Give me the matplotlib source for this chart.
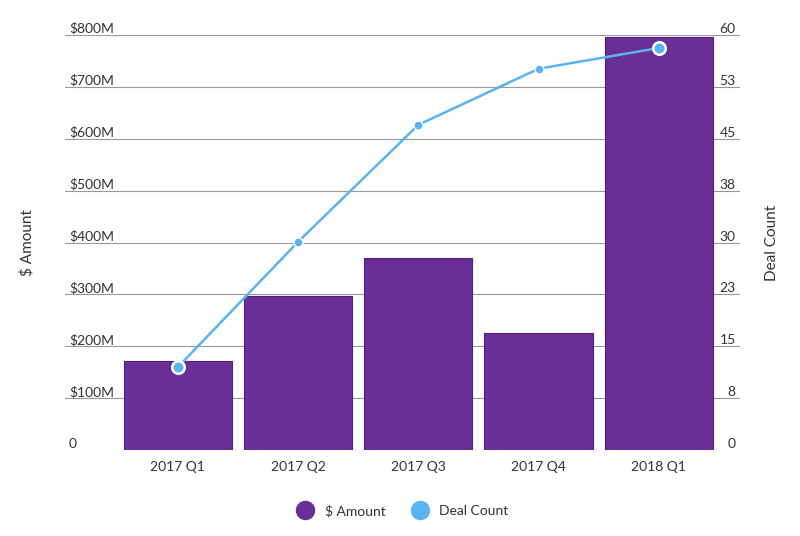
import matplotlib
matplotlib.use("Agg")
from matplotlib import pyplot as plt
from matplotlib.lines import Line2D

plt.rcParams['font.family'] = ['Lato', 'DejaVu Sans']

quarters = ["2017 Q1", "2017 Q2", "2017 Q3", "2017 Q4", "2018 Q1"]
amount_m = [171, 297, 370, 225, 796]
deal_count = [12.0, 30.1, 47.0, 55.1, 58.1]
left_ticks = [0, 100, 200, 300, 400, 500, 600, 700, 800]
left_labels = ["0", "$100M", "$200M", "$300M", "$400M", "$500M", "$600M", "$700M", "$800M"]
right_ticks = [0, 7.5, 15, 22.5, 30, 37.5, 45, 52.5, 60]
right_labels = ["0", "8", "15", "23", "30", "38", "45", "53", "60"]

BAR = "#6a2f96"
LINE = "#5ab4f2"
TXT = "#333333"

fig = plt.figure(figsize=(8, 5.36), dpi=100)
ax = fig.add_axes([0.081, 0.16, 0.844, 0.775])
x = list(range(len(quarters)))
ax.bar(x, amount_m, width=0.9, color=BAR, edgecolor="#4e1f75", linewidth=0.8, zorder=2)
ax.set_xlim(-0.94, 4.675)
ax.set_ylim(0, 800)
ax.set_yticks(left_ticks)
ax.set_yticklabels(left_labels)
ax.grid(axis="y", color="#999999", linewidth=0.8, zorder=0)
ax.tick_params(axis="y", length=0, pad=-3, labelsize=10, labelcolor=TXT)
for lab in ax.get_yticklabels():
    lab.set_horizontalalignment("left")
    lab.set_verticalalignment("bottom")
ax.set_xticks(x)
ax.set_xticklabels(quarters)
ax.tick_params(axis="x", length=0, pad=8, labelsize=10, labelcolor=TXT)
for s in ax.spines.values():
    s.set_visible(False)
ax.set_ylabel("$ Amount", fontsize=11, color=TXT, labelpad=22)

ax2 = ax.twinx()
ax2.set_ylim(0, 60)
ax2.plot(x, deal_count, color=LINE, linewidth=1.8, zorder=3)
ax2.plot(x[1:-1], deal_count[1:-1], "o", color=LINE, markersize=6.5,
         markeredgecolor="white", markeredgewidth=1, zorder=4)
ax2.plot([x[0], x[-1]], [deal_count[0], deal_count[-1]], "o", color=LINE, markersize=9,
         markeredgecolor="white", markeredgewidth=1.8, zorder=4)
ax2.set_yticks(right_ticks)
ax2.set_yticklabels(right_labels)
ax2.tick_params(axis="y", length=0, pad=-3, labelsize=10, labelcolor=TXT)
for lab in ax2.get_yticklabels():
    lab.set_horizontalalignment("right")
    lab.set_verticalalignment("bottom")
for s in ax2.spines.values():
    s.set_visible(False)
ax2.set_ylabel("Deal Count", fontsize=11, color=TXT, labelpad=18)

handles = [
    Line2D([], [], marker="o", linestyle="", markersize=13, color=BAR, label="$ Amount"),
    Line2D([], [], marker="o", linestyle="", markersize=13, color=LINE, label="Deal Count"),
]
fig.legend(handles=handles, loc="center", bbox_to_anchor=(0.5, 0.047), ncol=2,
           frameon=False, fontsize=10, handletextpad=0.4, columnspacing=1.5,
           labelcolor=TXT)

fig.savefig("out.png", dpi=100, facecolor="white")
